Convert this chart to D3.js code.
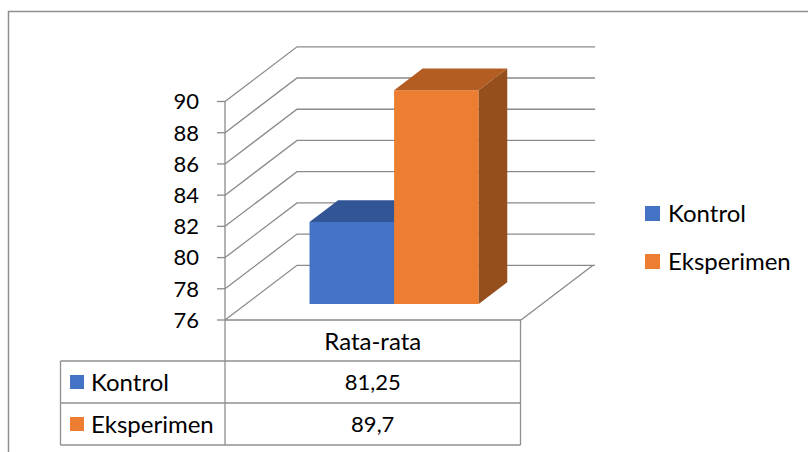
<!DOCTYPE html>
<html>
<head>
<meta charset="utf-8">
<script src="https://cdn.jsdelivr.net/npm/d3@7"></script>
<style>
  body { margin: 0; background: #fff; }
  svg text { font-family: Lato, "Noto Sans", sans-serif; fill: #000; }
</style>
</head>
<body>
<svg id="chart" width="808" height="452"></svg>
<script>
var categories = ["Rata-rata"];
var series = ["Kontrol", "Eksperimen"];
var values = [81.25, 89.7];
var yTicks = [76, 78, 80, 82, 84, 86, 88, 90];

var FRONT = ["#4472C4", "#ED7D31"];
var TOP = ["#325596", "#B45D22"];
var SIDE = ["#2A4A84", "#954F1D"];
var GRID = "#8a8a8a";
var NUM = 22, WORD = 24;

// depth offset of the back wall (3d projection)
var DX = 72, DY = -54.7;
var Z0 = 0.293, Z1 = 0.69;

var svg = d3.select("#chart");

var y = d3.scaleLinear().domain([76, 90]).range([320, 101.5]);
var x0 = d3.scaleBand().domain(categories).range([225, 521]).paddingOuter(0.375);
var x1 = d3.scaleBand().domain(series).range([0, x0.bandwidth()]);

function P(x, v, z) { return [x + DX * z, y(v) + DY * z]; }
function poly(pts) { return "M" + pts.map(p => p.join(",")).join("L") + "Z"; }

var fmt = d3.formatLocale({ decimal: ",", thousands: ".", grouping: [3], currency: ["", ""] }).format("~r");

// outer frame
svg.append("rect").attr("x", 8.5).attr("y", 11.5).attr("width", 830).attr("height", 480)
  .attr("fill", "none").attr("stroke", "#8f8f8f").attr("stroke-width", 1.5);

var xl = x0.range()[0], xr = x0.range()[1];
var g = svg.append("g").attr("fill", "none").attr("stroke", GRID).attr("stroke-width", 1.3);

// gridlines: left wall diagonal + back wall horizontal
yTicks.forEach(function (t) {
  var a = P(xl, t, 0), b = P(xl, t, 1), c = P(xr + 2, t, 1);
  g.append("path").attr("d", "M" + a + "L" + b + "L" + c);
});
// floor right edge
g.append("path").attr("d", "M" + P(xr, 76, 0) + "L" + P(xr, 76, 1));
// floor front edge
g.append("path").attr("d", "M" + P(xl, 76, 0) + "L" + P(xr, 76, 0));
// value axis
g.append("path").attr("d", "M" + P(xl, 90, 0) + "L" + P(xl, 76, 0));
yTicks.forEach(function (t) {
  g.append("path").attr("d", "M" + (xl - 8) + "," + y(t) + "H" + xl);
});

svg.append("g").selectAll("text").data(yTicks).enter().append("text")
  .attr("x", 199).attr("y", d => y(d)).attr("dy", "0.36em")
  .attr("text-anchor", "end").style("font-size", NUM + "px").text(d => d);

// bars
var bars = svg.append("g");
series.forEach(function (s, i) {
  var L = x0(categories[0]) + x1(s), R = L + x1.bandwidth(), v = values[i];
  bars.append("path").attr("fill", FRONT[i])
    .attr("d", poly([P(L, 76, Z0), P(R, 76, Z0), P(R, v, Z0), P(L, v, Z0)]));
  bars.append("path").attr("fill", TOP[i])
    .attr("d", poly([P(L, v, Z0), P(R, v, Z0), P(R, v, Z1), P(L, v, Z1)]));
  bars.append("path").attr("fill", SIDE[i])
    .attr("d", poly([P(R, 76, Z0), P(R, 76, Z1), P(R, v, Z1), P(R, v, Z0)]));
});

// legend
var leg = svg.append("g").selectAll("g").data(series).enter().append("g")
  .attr("transform", (d, i) => "translate(645," + (206 + i * 48) + ")");
leg.append("rect").attr("width", 15).attr("height", 15).attr("fill", (d, i) => FRONT[i]);
leg.append("text").attr("x", 23).attr("y", 7.5).attr("dy", "0.36em")
  .style("font-size", WORD + "px").text(d => d);

// data table
var tl = 60.5, tc = 225, tr = 520.5;
var rows = [320, 361, 403, 445];
var tg = svg.append("g").attr("stroke", "#8f8f8f").attr("stroke-width", 1.3).attr("fill", "none");
tg.append("path").attr("d", "M" + tc + "," + rows[0] + "V" + rows[3]);
tg.append("path").attr("d", "M" + tr + "," + rows[0] + "V" + rows[3]);
tg.append("path").attr("d", "M" + tl + "," + rows[1] + "V" + rows[3]);
[1, 2, 3].forEach(function (r) {
  tg.append("path").attr("d", "M" + tl + "," + rows[r] + "H" + tr);
});

var mid = (tc + tr) / 2;
svg.append("text").attr("x", mid).attr("y", (rows[0] + rows[1]) / 2 + 1).attr("dy", "0.36em")
  .attr("text-anchor", "middle").style("font-size", WORD + "px").text(categories[0]);

var trow = svg.append("g").selectAll("g").data(series).enter().append("g")
  .attr("transform", (d, i) => "translate(0," + (rows[i + 1] + rows[i + 2]) / 2 + ")");
trow.append("rect").attr("x", 70).attr("y", -7).attr("width", 14).attr("height", 14)
  .attr("fill", (d, i) => FRONT[i]);
trow.append("text").attr("x", 91).attr("dy", "0.36em").style("font-size", WORD + "px").text(d => d);
trow.append("text").attr("x", mid).attr("dy", "0.36em").attr("text-anchor", "middle")
  .style("font-size", NUM + "px").text((d, i) => fmt(values[i]));
</script>
</body>
</html>
